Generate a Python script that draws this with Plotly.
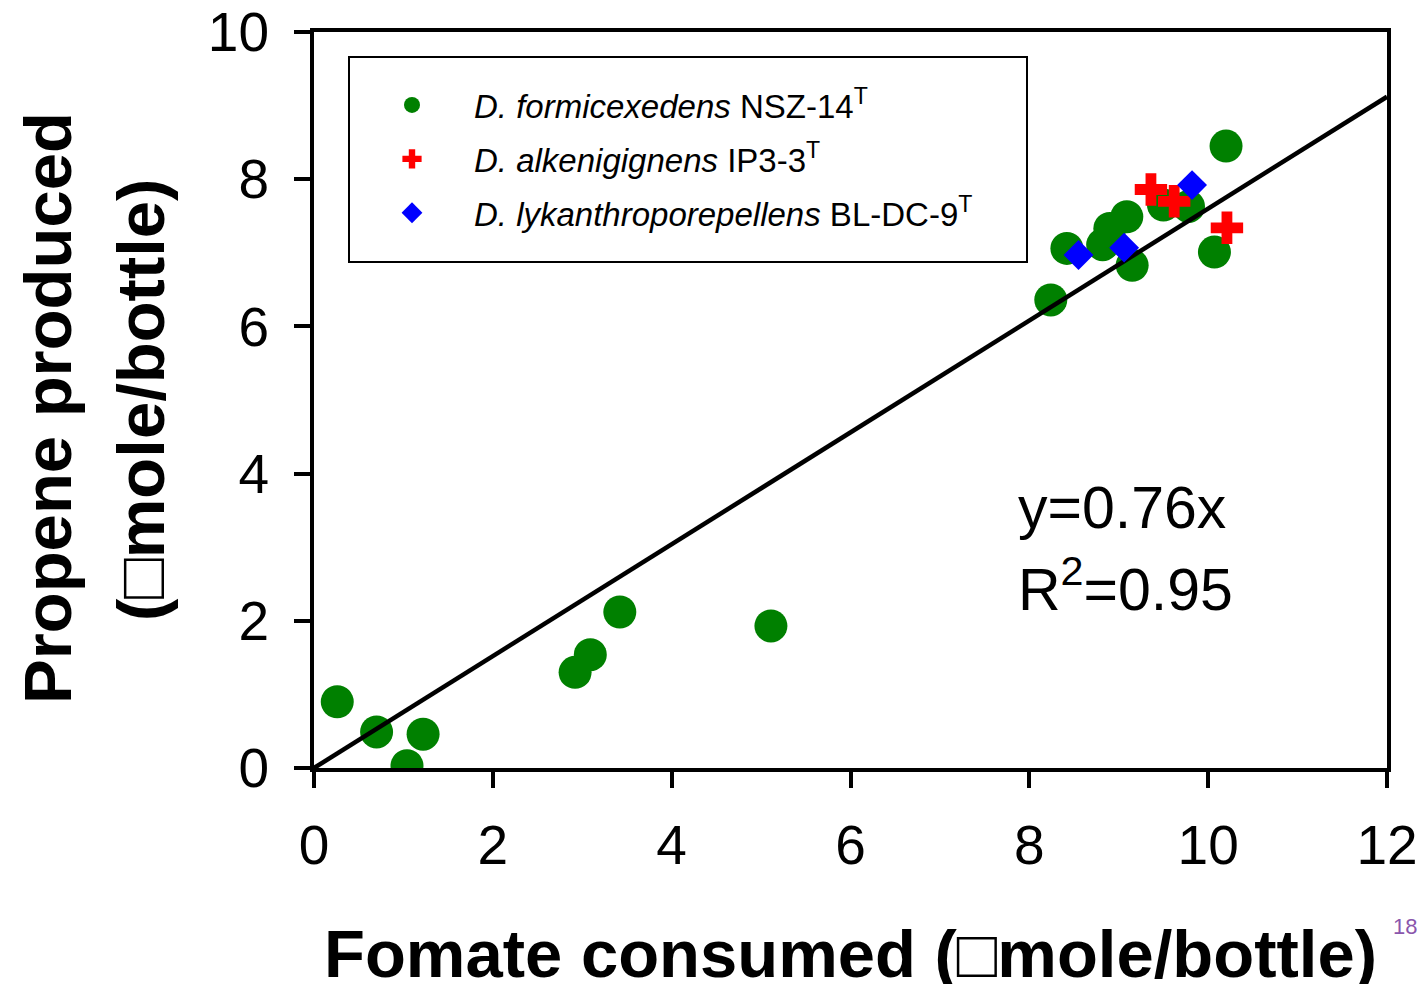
import plotly.graph_objects as go

# ---- data ----
green_x = [0.26, 0.70, 1.04, 1.22, 2.92, 3.09, 3.42, 5.11, 8.24, 8.42, 8.82, 8.90, 9.09, 9.15, 9.50, 9.78, 10.07, 10.20]
green_y = [0.90, 0.49, 0.03, 0.46, 1.30, 1.54, 2.12, 1.93, 6.36, 7.06, 7.11, 7.33, 7.49, 6.83, 7.65, 7.63, 7.01, 8.45]
red_x = [9.36, 9.62, 10.21]
red_y = [7.86, 7.70, 7.34]
blue_x = [8.55, 9.06, 9.82]
blue_y = [6.97, 7.07, 7.92]
slope = 0.76
fit_x = [0, 12]
fit_y = [slope * v for v in fit_x]
x_ticks = [0, 2, 4, 6, 8, 10, 12]
y_ticks = [0, 2, 4, 6, 8, 10]

names = [
    "<i>D. formicexedens</i> NSZ-14<sup>T</sup>",
    "<i>D. alkenigignens</i> IP3-3<sup>T</sup>",
    "<i>D. lykanthroporepellens</i> BL-DC-9<sup>T</sup>",
]

FONT = "Liberation Sans, Arial, sans-serif"

fig = go.Figure()
fig.add_trace(go.Scatter(x=green_x, y=green_y, mode="markers", name=names[0],
                         legendgroup="g", marker=dict(symbol="circle", size=33, color="#008000")))
fig.add_trace(go.Scatter(x=fit_x, y=fit_y, mode="lines", showlegend=False,
                         line=dict(color="black", width=4.5)))
fig.add_trace(go.Scatter(x=red_x, y=red_y, mode="markers", name=names[1],
                         legendgroup="r", marker=dict(symbol="cross", size=27, color="#ff0000")))
fig.add_trace(go.Scatter(x=blue_x, y=blue_y, mode="markers", name=names[2],
                         legendgroup="b", marker=dict(symbol="diamond", size=23, color="#0000ff")))

axis_common = dict(showline=True, linecolor="black", linewidth=4, mirror=True,
                   ticks="outside", ticklen=16, tickwidth=4, tickcolor="black",
                   showgrid=False, zeroline=False, ticklabeloverflow="allow",
                   tickfont=dict(family=FONT, size=55, color="black"))

fig.update_xaxes(range=[0, 12], tickvals=x_ticks, ticklabelstandoff=10, **axis_common)
fig.update_yaxes(range=[0, 10], tickvals=y_ticks, ticklabelstandoff=14, **axis_common)

# page offset: the figure sits 8px from the page corner
OFF = 8
W, H = 1073, 736
FIG_W = 1425 - OFF
FIG_H = 992 - 2 * OFF

def px(x):
    return (x - 314) / W

def py(y):
    return (768 - y) / H

annotations = [
    dict(text="Fomate consumed (□mole/bottle)", x=0.5, y=py(953), xref="paper", yref="paper",
         xanchor="center", yanchor="middle", showarrow=False,
         font=dict(family=FONT, size=67, color="black", weight="bold")),
    dict(text="Propene produced", x=px(47), y=py(408), xref="paper", yref="paper",
         xanchor="center", yanchor="middle", textangle=-90, showarrow=False,
         font=dict(family=FONT, size=67, color="black", weight="bold")),
    dict(text="(□mole/bottle)", x=px(140), y=py(400), xref="paper", yref="paper",
         xanchor="center", yanchor="middle", textangle=-90, showarrow=False,
         font=dict(family=FONT, size=67, color="black", weight="bold")),
    dict(text="y=0.76x", x=px(1016), y=py(508), xref="paper", yref="paper",
         xanchor="left", yanchor="middle", showarrow=False,
         font=dict(family=FONT, size=59, color="black")),
    dict(text="R<sup>2</sup>=0.95", x=px(1016), y=py(585), xref="paper", yref="paper",
         xanchor="left", yanchor="middle", showarrow=False,
         font=dict(family=FONT, size=59, color="black")),
    dict(text="18", x=px(1419), y=py(926), xref="paper", yref="paper",
         xanchor="right", yanchor="middle", showarrow=False,
         font=dict(family=FONT, size=22, color="#8a56ac")),
]

fig.update_layout(
    width=FIG_W, height=FIG_H,
    margin=dict(l=314 - OFF, r=FIG_W - (1387 - OFF), t=32 - OFF, b=FIG_H - (768 - OFF),
                autoexpand=False),
    plot_bgcolor="white", paper_bgcolor="white",
    showlegend=True,
    legend=dict(x=px(350), y=py(77), xanchor="left", yanchor="top",
                bgcolor="rgba(0,0,0,0)", borderwidth=0,
                font=dict(family=FONT, size=33, color="black"),
                tracegroupgap=8, itemsizing="trace", itemwidth=114,
                traceorder="grouped"),
    annotations=annotations,
    shapes=[dict(type="rect", xref="paper", yref="paper",
                 x0=px(349), x1=px(1027), y0=py(262), y1=py(57),
                 line=dict(color="black", width=2), fillcolor="rgba(0,0,0,0)", layer="below")],
)

fig.write_html("out.html")
